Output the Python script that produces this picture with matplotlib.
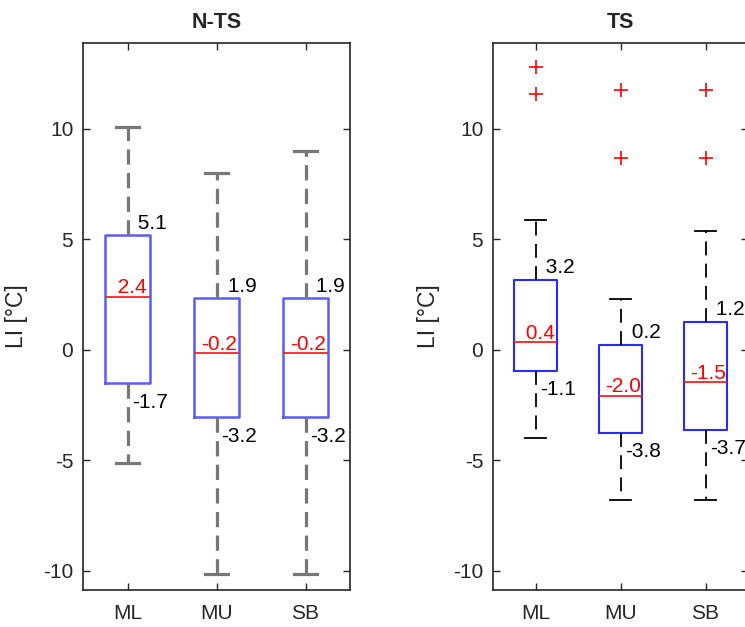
import matplotlib
matplotlib.use("Agg")
import matplotlib.pyplot as plt

plt.rcParams['font.family'] = ['Liberation Sans', 'DejaVu Sans']
plt.rcParams['lines.scale_dashes'] = False
plt.rcParams['axes.unicode_minus'] = False

cats = ['ML', 'MU', 'SB']

# N-TS panel
nts_whishi = [10.1, 8.0, 9.0]
nts_q3 = [5.2, 2.35, 2.35]
nts_med = [2.4, -0.15, -0.15]
nts_q1 = [-1.5, -3.05, -3.05]
nts_whislo = [-5.1, -10.15, -10.15]
nts_q3_lbl = [5.1, 1.9, 1.9]
nts_med_lbl = [2.4, -0.2, -0.2]
nts_q1_lbl = [-1.7, -3.2, -3.2]

# TS panel
ts_whishi = [5.9, 2.3, 5.4]
ts_q3 = [3.17, 0.23, 1.27]
ts_med = [0.36, -2.08, -1.45]
ts_q1 = [-0.95, -3.75, -3.62]
ts_whislo = [-4.0, -6.8, -6.8]
ts_fliers = [[12.8, 11.6], [11.75, 8.7], [11.75, 8.7]]
ts_q3_lbl = [3.2, 0.2, 1.2]
ts_med_lbl = [0.4, -2.0, -1.5]
ts_q1_lbl = [-1.1, -3.8, -3.7]

FS = 15
TXT = '#262626'


def panel(ax, title, whishi, q3, med, q1, whislo, fliers,
          q3_lbl, med_lbl, q1_lbl, box_c, wh_c, wh_lw, box_lw, dash):
    stats = []
    for i in range(len(cats)):
        stats.append(dict(label=cats[i], whishi=whishi[i], q3=q3[i], med=med[i],
                          q1=q1[i], whislo=whislo[i], fliers=fliers[i]))
    ax.bxp(stats, positions=[1, 2, 3], widths=0.5, capwidths=0.25,
           boxprops=dict(color=box_c, linewidth=box_lw),
           medianprops=dict(color='#ff2020', linewidth=1.3),
           whiskerprops=dict(color=wh_c, linewidth=wh_lw, linestyle=(0, dash)),
           capprops=dict(color=wh_c, linewidth=wh_lw),
           flierprops=dict(marker='+', markeredgecolor='red', markersize=10,
                           markeredgewidth=1.2, linestyle='none'))
    for i in range(len(cats)):
        x = i + 1
        ax.annotate(f"{q3_lbl[i]:4.1f}", (x, q3[i]), xytext=(5, 12),
                    textcoords='offset pixels', ha='left', va='center',
                    fontsize=FS, color='black')
        ax.annotate(f"{q1_lbl[i]:4.1f}", (x, q1[i]), xytext=(5, -19),
                    textcoords='offset pixels', ha='left', va='center',
                    fontsize=FS, color='black')
        ax.annotate(f"{med_lbl[i]:4.1f}", (x, med[i]), xytext=(-15, 9),
                    textcoords='offset pixels', ha='left', va='center',
                    fontsize=FS, color='red')
    ax.set_xlim(0.5, 3.5)
    ax.set_ylim(-10.86, 13.89)
    ax.set_yticks([-10, -5, 0, 5, 10])
    ax.set_xticks([1, 2, 3])
    ax.set_xticklabels(cats)
    ax.tick_params(direction='in', top=True, right=True, length=5,
                   labelsize=FS, colors=TXT, width=1)
    ax.tick_params(axis='y', pad=7)
    ax.tick_params(axis='x', pad=10)
    for s in ax.spines.values():
        s.set_color(TXT)
        s.set_linewidth(1.2)
    ax.set_title(title, fontsize=15.5, fontweight='bold', color=TXT, pad=11)
    ax.set_ylabel('LI [°C]', fontsize=16.5, color=TXT)


fig = plt.figure(figsize=(7.45, 6.27), dpi=100)
ax1 = fig.add_axes([83 / 745, 37 / 627, 267 / 745, 547 / 627])
ax2 = fig.add_axes([493 / 745, 37 / 627, 255 / 745, 547 / 627])

panel(ax1, 'N-TS', nts_whishi, nts_q3, nts_med, nts_q1, nts_whislo, [[], [], []],
      nts_q3_lbl, nts_med_lbl, nts_q1_lbl, '#5a5aff', '#777777', 2.3, 1.8, (11, 6))
panel(ax2, 'TS', ts_whishi, ts_q3, ts_med, ts_q1, ts_whislo, ts_fliers,
      ts_q3_lbl, ts_med_lbl, ts_q1_lbl, '#2a2aff', 'black', 1.3, 1.5, (10, 6))

ax1.yaxis.set_label_coords(-55 / 267, 0.5)
ax2.yaxis.set_label_coords(-53 / 255, 0.5)

fig.savefig('out.png', dpi=100)
